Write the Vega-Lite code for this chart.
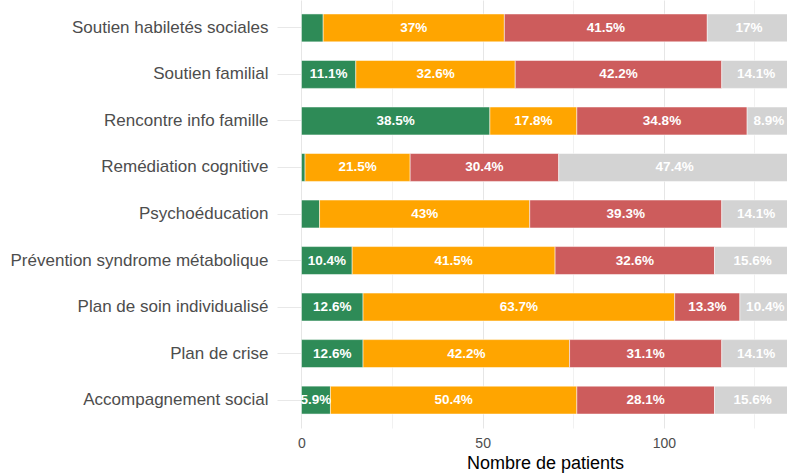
{
  "$schema": "https://vega.github.io/schema/vega-lite/v6.json",
  "autosize": "none",
  "width": 510,
  "height": 428,
  "padding": {"left": 277, "top": 0, "right": 0, "bottom": 45},
  "background": "white",
  "config": {
    "view": {"stroke": null},
    "font": "Liberation Sans"
  },
  "data": {
    "values": [
      {"item": "Soutien habiletés sociales", "cat": "Catégorie 1", "rang": 1, "n": 6, "label": ""},
      {"item": "Soutien habiletés sociales", "cat": "Catégorie 2", "rang": 2, "n": 50, "label": "37%"},
      {"item": "Soutien habiletés sociales", "cat": "Catégorie 3", "rang": 3, "n": 56, "label": "41.5%"},
      {"item": "Soutien habiletés sociales", "cat": "Catégorie 4", "rang": 4, "n": 23, "label": "17%"},
      {"item": "Soutien familial", "cat": "Catégorie 1", "rang": 1, "n": 15, "label": "11.1%"},
      {"item": "Soutien familial", "cat": "Catégorie 2", "rang": 2, "n": 44, "label": "32.6%"},
      {"item": "Soutien familial", "cat": "Catégorie 3", "rang": 3, "n": 57, "label": "42.2%"},
      {"item": "Soutien familial", "cat": "Catégorie 4", "rang": 4, "n": 19, "label": "14.1%"},
      {"item": "Rencontre info famille", "cat": "Catégorie 1", "rang": 1, "n": 52, "label": "38.5%"},
      {"item": "Rencontre info famille", "cat": "Catégorie 2", "rang": 2, "n": 24, "label": "17.8%"},
      {"item": "Rencontre info famille", "cat": "Catégorie 3", "rang": 3, "n": 47, "label": "34.8%"},
      {"item": "Rencontre info famille", "cat": "Catégorie 4", "rang": 4, "n": 12, "label": "8.9%"},
      {"item": "Remédiation cognitive", "cat": "Catégorie 1", "rang": 1, "n": 1, "label": ""},
      {"item": "Remédiation cognitive", "cat": "Catégorie 2", "rang": 2, "n": 29, "label": "21.5%"},
      {"item": "Remédiation cognitive", "cat": "Catégorie 3", "rang": 3, "n": 41, "label": "30.4%"},
      {"item": "Remédiation cognitive", "cat": "Catégorie 4", "rang": 4, "n": 64, "label": "47.4%"},
      {"item": "Psychoéducation", "cat": "Catégorie 1", "rang": 1, "n": 5, "label": ""},
      {"item": "Psychoéducation", "cat": "Catégorie 2", "rang": 2, "n": 58, "label": "43%"},
      {"item": "Psychoéducation", "cat": "Catégorie 3", "rang": 3, "n": 53, "label": "39.3%"},
      {"item": "Psychoéducation", "cat": "Catégorie 4", "rang": 4, "n": 19, "label": "14.1%"},
      {"item": "Prévention syndrome métabolique", "cat": "Catégorie 1", "rang": 1, "n": 14, "label": "10.4%"},
      {"item": "Prévention syndrome métabolique", "cat": "Catégorie 2", "rang": 2, "n": 56, "label": "41.5%"},
      {"item": "Prévention syndrome métabolique", "cat": "Catégorie 3", "rang": 3, "n": 44, "label": "32.6%"},
      {"item": "Prévention syndrome métabolique", "cat": "Catégorie 4", "rang": 4, "n": 21, "label": "15.6%"},
      {"item": "Plan de soin individualisé", "cat": "Catégorie 1", "rang": 1, "n": 17, "label": "12.6%"},
      {"item": "Plan de soin individualisé", "cat": "Catégorie 2", "rang": 2, "n": 86, "label": "63.7%"},
      {"item": "Plan de soin individualisé", "cat": "Catégorie 3", "rang": 3, "n": 18, "label": "13.3%"},
      {"item": "Plan de soin individualisé", "cat": "Catégorie 4", "rang": 4, "n": 14, "label": "10.4%"},
      {"item": "Plan de crise", "cat": "Catégorie 1", "rang": 1, "n": 17, "label": "12.6%"},
      {"item": "Plan de crise", "cat": "Catégorie 2", "rang": 2, "n": 57, "label": "42.2%"},
      {"item": "Plan de crise", "cat": "Catégorie 3", "rang": 3, "n": 42, "label": "31.1%"},
      {"item": "Plan de crise", "cat": "Catégorie 4", "rang": 4, "n": 19, "label": "14.1%"},
      {"item": "Accompagnement social", "cat": "Catégorie 1", "rang": 1, "n": 8, "label": "5.9%"},
      {"item": "Accompagnement social", "cat": "Catégorie 2", "rang": 2, "n": 68, "label": "50.4%"},
      {"item": "Accompagnement social", "cat": "Catégorie 3", "rang": 3, "n": 38, "label": "28.1%"},
      {"item": "Accompagnement social", "cat": "Catégorie 4", "rang": 4, "n": 21, "label": "15.6%"}
    ]
  },
  "encoding": {
    "y": {
      "field": "item",
      "type": "nominal",
      "sort": null,
      "scale": {"paddingInner": 0.4, "paddingOuter": 0.3},
      "axis": {
        "title": null,
        "domain": false,
        "ticks": false,
        "grid": true,
        "bandPosition": 0.5,
        "gridColor": "#e8e8e8",
        "gridWidth": 1,
        "labelFontSize": 17,
        "labelColor": "#4d4d4d",
        "labelPadding": 9,
        "labelLimit": 400
      }
    }
  },
  "layer": [
    {
      "mark": {"type": "bar", "clip": true, "stroke": "white", "strokeWidth": 0.5},
      "encoding": {
        "x": {
          "field": "n",
          "type": "quantitative",
          "stack": "zero",
          "scale": {"domain": [-6.75, 134], "nice": false, "zero": false},
          "axis": {
            "title": "Nombre de patients",
            "values": [0, 25, 50, 75, 100, 125],
            "labelExpr": "datum.value % 50 === 0 ? datum.label : ''",
            "grid": true,
            "gridColor": {"condition": {"test": "datum.value % 50 === 0", "value": "#e6e6e6"}, "value": "#f1f1f1"},
            "gridWidth": 1,
            "ticks": false,
            "domain": false,
            "labelColor": "#4d4d4d",
            "labelFontSize": 14,
            "labelPadding": 8,
            "titleFontSize": 18,
            "titleFontWeight": "normal",
            "titleColor": "black",
            "titleX": 268,
            "titleY": 40,
            "titleBaseline": "alphabetic",
            "titleAnchor": "middle"
          }
        },
        "color": {
          "field": "cat",
          "type": "nominal",
          "scale": {
            "domain": ["Catégorie 1", "Catégorie 2", "Catégorie 3", "Catégorie 4"],
            "range": ["#2e8b57", "#ffa500", "#cd5c5c", "#d3d3d3"]
          },
          "legend": null
        },
        "order": {"field": "rang", "type": "quantitative"}
      }
    },
    {
      "mark": {"type": "text", "color": "white", "fontWeight": "bold", "fontSize": 13.5, "baseline": "middle", "align": "center"},
      "encoding": {
        "x": {"field": "n", "type": "quantitative", "stack": "zero", "bandPosition": 0.5},
        "text": {"field": "label"},
        "order": {"field": "rang", "type": "quantitative"}
      }
    }
  ]
}
